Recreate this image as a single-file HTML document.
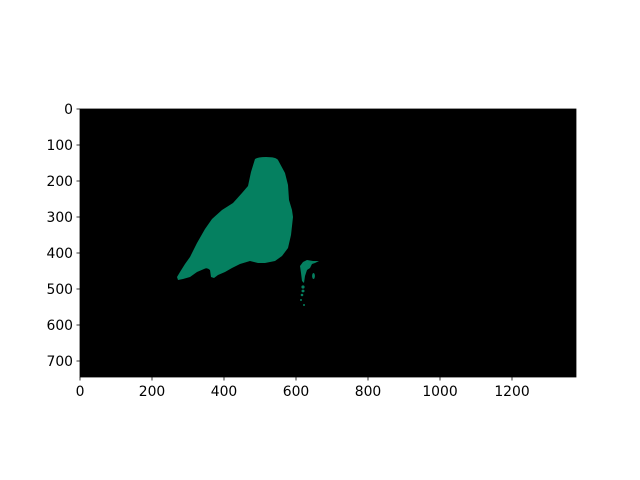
<!DOCTYPE html>
<html><head><meta charset="utf-8"><style>
body{margin:0;background:#fff;}
svg{display:block;font-family:"DejaVu Sans","Liberation Sans",sans-serif;}
</style></head><body>
<svg width="640" height="480">
<rect x="0" y="0" width="640" height="480" fill="#fff"/>
<rect x="80" y="109" width="496" height="268" fill="#000"/>
<g fill="#058060">
<path d="M255,159 Q258,157 266,157 Q276,157 278,160 L285,173 L288,185 L289,200 L292,210 L293,217 L291,235 L288,248 L282,256 L275,261 L265,263 L258,263 L250,261 L240,264 L232,268 L225,272 L218,275 L214,278 L211,277 L210,270 Q207,267 204,269 L197,272 L190,277 L183,279 L178,280 L177,277 L180,272 L185,264 L190,257 L197,243 L205,229 L212,219 L222,210 L233,203 L242,193 L248,186 L251,172 Z"/>
<path d="M303,262 L307,260 L313,261 L319,261 L315,263 L312,264 L310,268 L307,270 L305,276 L304,283 L302,281 L301,273 L300,266 Z"/>
<ellipse cx="313.5" cy="276" rx="1.4" ry="3"/>
<ellipse cx="303" cy="287" rx="1.6" ry="1.6"/>
<ellipse cx="303" cy="291" rx="1.5" ry="1.4"/>
<ellipse cx="302" cy="295" rx="1.3" ry="1.2"/>
<ellipse cx="301" cy="300" rx="1" ry="1"/>
<ellipse cx="304" cy="305" rx="1" ry="1"/>
</g>
<rect x="80" y="109" width="496" height="268" fill="none" stroke="#000" stroke-width="0.8"/>
<g id="xt" font-size="13.9" text-anchor="middle"></g>
<g id="yt" font-size="13.9" text-anchor="end"></g>
</svg>
<script>
const xTicks=[0,200,400,600,800,1000,1200];
const yTicks=[0,100,200,300,400,500,600,700];
const ns="http://www.w3.org/2000/svg";
const sx=v=>80+v*0.36, sy=v=>109+v*0.36;
const xt=document.getElementById('xt'), yt=document.getElementById('yt');
xTicks.forEach(t=>{
  const l=document.createElementNS(ns,'line');
  
  
  l.setAttribute('x1',sx(t));l.setAttribute('x2',sx(t));l.setAttribute('y1',377);l.setAttribute('y2',380.5);l.setAttribute('stroke','#000');l.setAttribute('stroke-width','0.8');
  xt.appendChild(l);
  const s=document.createElementNS(ns,'text');
  
  
  s.setAttribute('x',sx(t));s.setAttribute('y',396);s.textContent=t;
  xt.appendChild(s);
});
yTicks.forEach(t=>{
  const l=document.createElementNS(ns,'line');
  
  
  l.setAttribute('x1',76.5);l.setAttribute('x2',80);l.setAttribute('y1',sy(t));l.setAttribute('y2',sy(t));l.setAttribute('stroke','#000');l.setAttribute('stroke-width','0.8');
  yt.appendChild(l);
  const s=document.createElementNS(ns,'text');
  
  
  s.setAttribute('x',73);s.setAttribute('y',sy(t)+5);s.textContent=t;
  yt.appendChild(s);
});
</script>
</body></html>
